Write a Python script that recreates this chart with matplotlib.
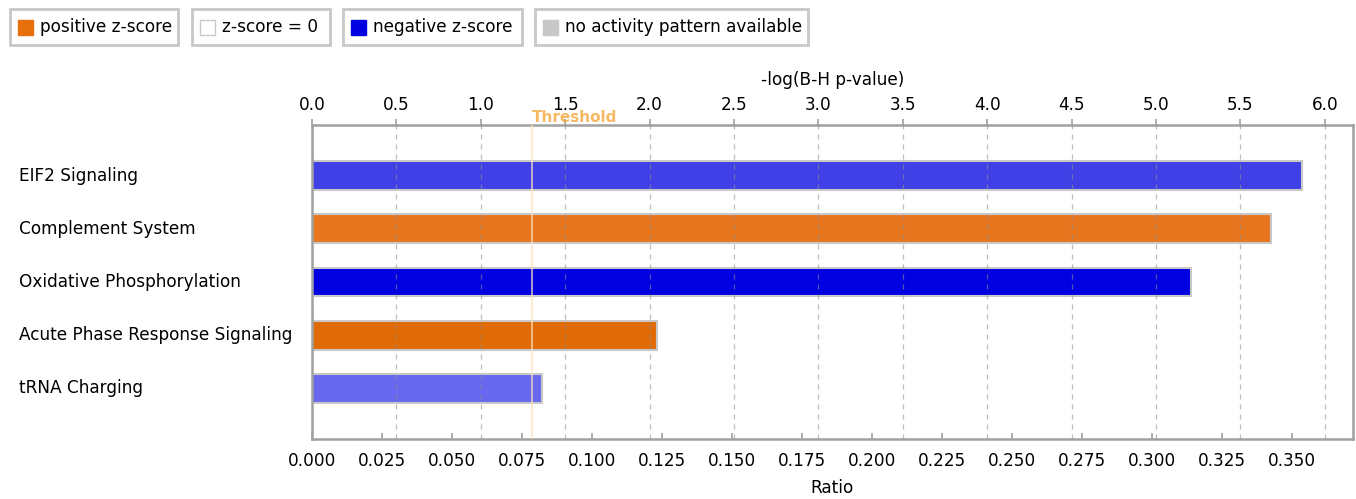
"""IPA-style canonical pathway bar chart: -log(B-H p-value) with ratio axis."""
import matplotlib

matplotlib.use("Agg")
import matplotlib.pyplot as plt
from matplotlib.patches import Rectangle
from matplotlib.transforms import blended_transform_factory

pathways = [
    "EIF2 Signaling",
    "Complement System",
    "Oxidative Phosphorylation",
    "Acute Phase Response Signaling",
    "tRNA Charging",
]
neg_log_p = [5.867, 5.68, 5.205, 2.045, 1.363]
bar_colors = ["#4040e6", "#e8761e", "#0000e0", "#e06a06", "#6868ee"]
threshold = 1.301

top_ticks = [0.0, 0.5, 1.0, 1.5, 2.0, 2.5, 3.0, 3.5, 4.0, 4.5, 5.0, 5.5, 6.0]
ratio_ticks = [0.000, 0.025, 0.050, 0.075, 0.100, 0.125, 0.150, 0.175,
               0.200, 0.225, 0.250, 0.275, 0.300, 0.325, 0.350]

legend_labels = ["positive z-score", "z-score = 0", "negative z-score",
                 "no activity pattern available"]
legend_colors = ["#e8700c", "#ffffff", "#0000e0", "#c8c8c8"]

plt.rcParams["font.family"] = "DejaVu Sans"
SPINE = "#a0a0a0"
FS = 12.2

W, H = 1356, 499
fig = plt.figure(figsize=(W / 100, H / 100), dpi=100)
ax = fig.add_axes([312 / W, 1 - 439 / H, 1041 / W, 314 / H])
ax2 = ax.twiny()

y = list(range(len(pathways)))
ax.barh(y, neg_log_p, height=0.54, color=bar_colors, edgecolor="#c8c8c8",
        linewidth=1.5, zorder=2)
ax.set_ylim(len(pathways) - 0.05, -0.95)
ax.set_xlim(0, 6.167)
ax.set_yticks([])

# top axis: -log(B-H p-value)
ax.xaxis.tick_top()
ax.xaxis.set_label_position("top")
ax.set_xticks(top_ticks)
ax.set_xticklabels([f"{t:.1f}" for t in top_ticks], fontsize=FS)
ax.tick_params(axis="x", direction="out", length=4, width=1.2, color=SPINE,
               pad=4)
ax.set_xlabel("-log(B-H p-value)", fontsize=FS, labelpad=8)
for t in top_ticks[1:]:
    ax.axvline(t, color="#909090", linestyle=(0, (4, 4)), linewidth=0.9,
               alpha=0.6, zorder=3)

ax.axvline(threshold, color="#ffe2c0", linewidth=1.2, alpha=0.8, zorder=4)
ax.text(threshold, 1.0, "Threshold", transform=ax.get_xaxis_transform(),
        color="#f5a030", alpha=0.75, fontsize=11, fontweight="bold",
        ha="left", va="bottom")

for spine in ax.spines.values():
    spine.set_color(SPINE)
    spine.set_linewidth(1.8)

label_tf = blended_transform_factory(fig.transFigure, ax.transData)
for yi, name in zip(y, pathways):
    ax.text(19 / W, yi, name, transform=label_tf, fontsize=FS, ha="left",
            va="center")

# bottom axis: Ratio
ax2.xaxis.tick_bottom()
ax2.xaxis.set_label_position("bottom")
ax2.set_xlim(0, 0.3718)
ax2.set_xticks(ratio_ticks)
ax2.set_xticklabels([f"{t:.3f}" for t in ratio_ticks], fontsize=FS)
ax2.tick_params(axis="x", direction="in", length=4, width=1.2, color=SPINE,
                pad=9)
ax2.set_xlabel("Ratio", fontsize=FS, labelpad=7)
for spine in ax2.spines.values():
    spine.set_visible(False)

# legend boxes along the top
boxes = [(10, 178), (192, 330), (343, 522), (535, 808)]
for (x0, x1), label, color in zip(boxes, legend_labels, legend_colors):
    fig.add_artist(Rectangle((x0 / W, 1 - 45 / H), (x1 - x0) / W, 36 / H,
                             transform=fig.transFigure, facecolor="white",
                             edgecolor="#c8c8c8", linewidth=2))
    fig.add_artist(Rectangle(((x0 + 8) / W, 1 - 35 / H), 15 / W, 15 / H,
                             transform=fig.transFigure, facecolor=color,
                             edgecolor="#c8c8c8" if color == "#ffffff" else color,
                             linewidth=1))
    fig.text((x0 + 30) / W, 1 - 27 / H, label, fontsize=FS, ha="left",
             va="center")

fig.savefig("out.png", dpi=100)
